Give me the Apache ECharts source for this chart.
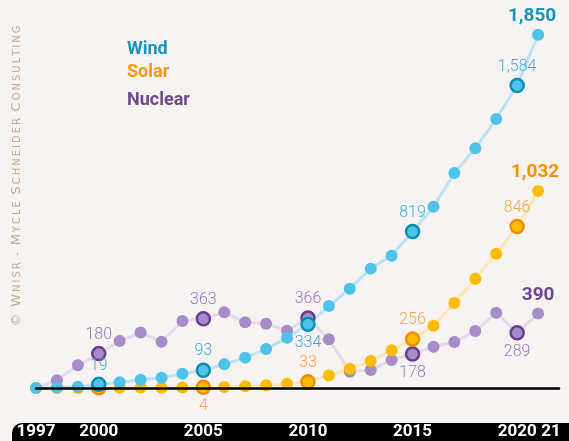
<!DOCTYPE html>
<html><head><meta charset="utf-8">
<script src="https://cdn.jsdelivr.net/npm/echarts@6/dist/echarts.min.js"></script>
<style>html,body{margin:0;padding:0;background:#f7f3f2;}#c{width:569px;height:441px;}</style>
</head><body><div id="c"></div>
<script>
const years = [1997,1998,1999,2000,2001,2002,2003,2004,2005,2006,2007,2008,2009,2010,2011,2012,2013,2014,2015,2016,2017,2018,2019,2020,2021];
const wind    = [0,3,7,19,30,43,54,75,93,124,159,204,263,334,429,520,625,693,819,949,1126,1255,1408,1584,1850];
const solar   = [0,0,0,1,1,1,1,2,4,5,9,14,22,33,66,101,141,197,256,326,445,572,703,846,1032];
const nuclear = [0,40,119,180,246,290,242,351,363,396,344,337,300,366,255,85,94,147,178,216,241,298,394,289,390];
const tickYears = [1997,2000,2005,2010,2015,2020,2021];

// highlighted years and where their value label sits
const windMarks    = [[2000,'top'],[2005,'top'],[2010,'bottom'],[2015,'top'],[2020,'top']];
const solarMarks   = [[2000,null],[2005,'bottom'],[2010,'top'],[2015,'top'],[2020,'top']];
const nuclearMarks = [[2000,'top'],[2005,'top'],[2010,'top'],[2015,'bottom'],[2020,'bottom']];

const fmt = v => v.toLocaleString('en-US');
const FONT = 'Roboto';

function build(vals, marks, c){
  return vals.map((v,i)=>{
    const y = years[i];
    const item = {value:[y,v]};
    const m = marks.find(d=>d[0]===y);
    if(m){
      item.symbolSize = 13;
      item.itemStyle = {color:c.marker, borderColor:c.ring, borderWidth:2.5};
      if(m[1]){
        item.label = {show:true, position:m[1], distance:3,
          color:c.label, fontSize:16, fontFamily:FONT, fontWeight:300, formatter:p=>fmt(p.value[1])};
      }
    }
    if(i===vals.length-1){
      item.label = {show:true, position:'top', distance:3, offset:[c.endDx,0], color:c.bold, fontSize:19, fontFamily:FONT, fontWeight:'bold', formatter:p=>fmt(p.value[1])};
    }
    return item;
  });
}

const C = {
  wind:{marker:'#4ec3e9', line:'#b9e4f5', ring:'#0b8db4', label:'#3aaed6', bold:'#1596bf', endDx:-6},
  solar:{marker:'#ffbb00', line:'#fde7b6', ring:'#f28c00', label:'#f6a83e', bold:'#f39200', endDx:-3},
  nuclear:{marker:'#a68dc7', line:'#e2daee', ring:'#6a3d8f', label:'#977bbb', bold:'#6b4795', endDx:0}
};

function series(name, vals, marks, c){
  return {
    name, type:'line', data:build(vals,marks,c),
    symbol:'circle', symbolSize:12, showSymbol:true,
    lineStyle:{color:c.line, width:3},
    itemStyle:{color:c.marker, borderWidth:0},
    label:{show:false},
    emphasis:{disabled:true}, z:2
  };
}

const ts = '\u2009';
function spaced(s){ return s.split('').join(ts); }
const wm = '{b|©}  {b|W}{s|'+ts+spaced('NISR')+'}  {s|-}  {b|M}{s|'+ts+spaced('YCLE')+'}  {b|S}{s|'+ts+spaced('CHNEIDER')+'}  {b|C}{s|'+ts+spaced('ONSULTING')+'}';

const legendBase = {icon:'none', itemWidth:0, itemHeight:18, left:117, selectedMode:false, textStyle:{fontSize:18, fontWeight:'bold', fontFamily:FONT}};

const chart = echarts.init(document.getElementById('c'), null, {renderer:'canvas'});
chart.setOption({
  animation:false,
  backgroundColor:'#f7f3f2',
  grid:{left:36, right:10, top:6, bottom:53, containLabel:false},
  xAxis:{
    type:'value', min:1997, max:2022, z:10,
    axisLine:{show:true, onZero:true, lineStyle:{color:'#000', width:2.5}},
    axisTick:{show:false}, splitLine:{show:false},
    axisLabel:{
      customValues:tickYears, margin:35, color:'#fff', fontSize:17, fontWeight:'bold', fontFamily:FONT,
      formatter:v=> v===2021 ? '{s|21}' : String(v),
      rich:{s:{color:'#fff', fontSize:17, fontWeight:'bold', fontFamily:FONT, padding:[0,0,0,26]}}
    }
  },
  yAxis:{type:'value', min:0, max:2000, show:false, splitLine:{show:false}},
  legend:[
    Object.assign({}, legendBase, {data:[{name:'Wind', textStyle:{color:'#1596bf'}}], top:35}),
    Object.assign({}, legendBase, {data:[{name:'Solar', textStyle:{color:'#f7980f'}}], top:58}),
    Object.assign({}, legendBase, {data:[{name:'Nuclear', textStyle:{color:'#6d4a8c'}}], top:86})
  ],
  graphic:[
    {type:'rect', z:-10, shape:{x:12, y:423, width:570, height:40, r:10}, style:{fill:'#000'}},
    {type:'text', z:5, x:17, y:176, rotation:Math.PI/2,
     style:{text:wm, align:'center', verticalAlign:'middle',
       rich:{b:{fontSize:13, fill:'#c6ae8a', fontFamily:'DejaVu Sans'}, s:{fontSize:10, fill:'#c6ae8a', fontFamily:'DejaVu Sans'}}}}
  ],
  series:[
    series('Nuclear', nuclear, nuclearMarks, C.nuclear),
    series('Solar', solar, solarMarks, C.solar),
    series('Wind', wind, windMarks, C.wind)
  ]
});
</script></body></html>
